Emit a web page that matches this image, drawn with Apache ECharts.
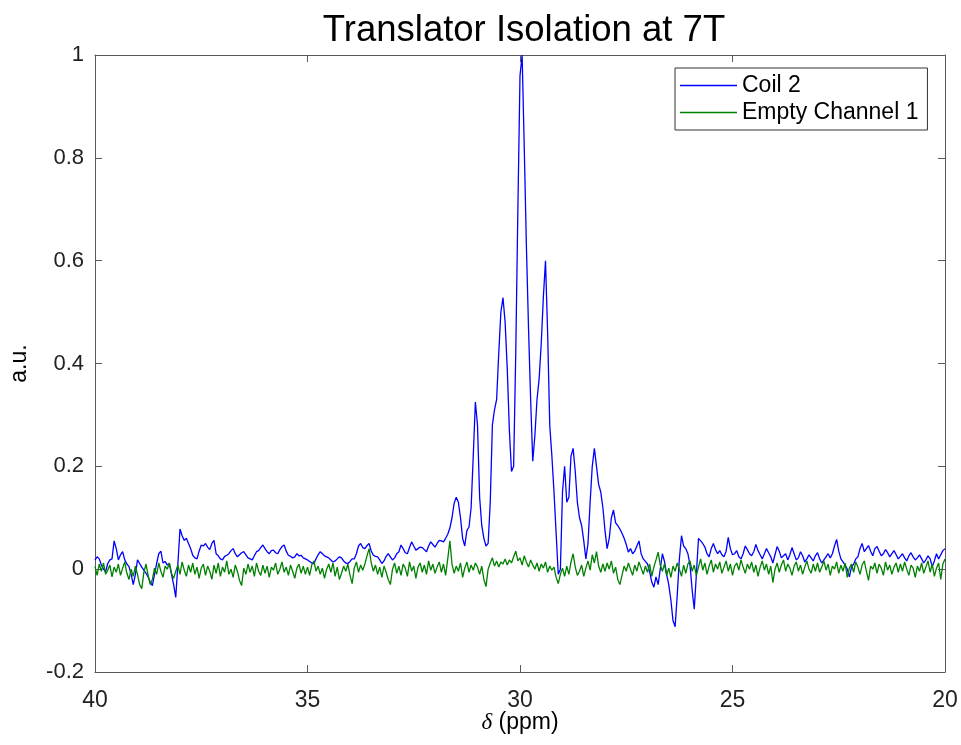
<!DOCTYPE html>
<html><head><meta charset="utf-8">
<script src="https://cdn.jsdelivr.net/npm/echarts@6/dist/echarts.min.js"></script>
<style>html,body{margin:0;padding:0;background:#fff}#c{width:961px;height:745px}</style>
</head><body><div id="c"></div>
<script>
// chemical shift grid: 40 ppm down to 20 ppm
const ppmStart = 40;
const ppmStep = 0.05;

const coil2 = [
0.018,0.024,0.02,0.008,0.0,-0.005,0.011,0.018,0.02,0.055,0.04,0.018,0.028,0.034,0.018,0.01,0.005,-0.01,-0.03,-0.01,
0.018,0.011,0.004,-0.002,-0.008,-0.015,-0.025,-0.032,-0.01,0.011,0.03,0.035,0.012,0.015,0.008,0.011,-0.01,-0.03,-0.055,0.01,
0.078,0.065,0.056,0.06,0.05,0.04,0.027,0.022,0.02,0.035,0.047,0.045,0.05,0.043,0.038,0.05,0.056,0.03,0.026,0.02,
0.018,0.025,0.027,0.03,0.036,0.04,0.03,0.024,0.028,0.032,0.034,0.028,0.022,0.02,0.018,0.026,0.034,0.036,0.042,0.047,
0.04,0.034,0.03,0.036,0.037,0.032,0.03,0.038,0.044,0.047,0.035,0.027,0.025,0.022,0.024,0.03,0.026,0.027,0.022,0.02,
0.018,0.015,0.012,0.011,0.02,0.028,0.034,0.03,0.026,0.024,0.022,0.018,0.014,0.016,0.02,0.024,0.022,0.016,0.012,0.011,
0.015,0.02,0.02,0.03,0.045,0.05,0.042,0.04,0.046,0.05,0.035,0.027,0.025,0.024,0.018,0.011,0.016,0.025,0.03,0.024,
0.018,0.022,0.03,0.034,0.047,0.04,0.032,0.03,0.042,0.053,0.045,0.037,0.04,0.043,0.042,0.038,0.034,0.045,0.053,0.048,
0.043,0.05,0.056,0.055,0.053,0.06,0.068,0.08,0.1,0.128,0.14,0.13,0.1,0.06,0.045,0.075,0.082,0.12,0.22,0.325,
0.28,0.14,0.085,0.06,0.045,0.05,0.13,0.28,0.31,0.33,0.42,0.5,0.528,0.48,0.39,0.27,0.19,0.2,0.42,0.7,
0.96,1.0,0.82,0.63,0.47,0.33,0.21,0.26,0.33,0.37,0.44,0.53,0.6,0.46,0.28,0.22,0.15,0.07,-0.01,0.0,
0.15,0.2,0.13,0.14,0.22,0.235,0.19,0.13,0.1,0.085,0.055,0.02,0.05,0.13,0.2,0.235,0.2,0.165,0.15,0.12,
0.075,0.04,0.06,0.1,0.115,0.09,0.085,0.078,0.07,0.06,0.048,0.033,0.04,0.03,0.035,0.045,0.055,0.03,0.02,0.015,
0.01,-0.005,-0.025,-0.035,-0.015,-0.03,0.0,0.03,0.015,-0.01,-0.03,-0.06,-0.1,-0.112,-0.05,0.02,0.065,0.045,0.04,0.03,
0.008,-0.04,-0.078,-0.01,0.06,0.055,0.05,0.043,0.03,0.024,0.04,0.05,0.038,0.03,0.036,0.028,0.024,0.035,0.062,0.04,
0.028,0.03,0.036,0.024,0.02,0.03,0.045,0.038,0.03,0.026,0.034,0.048,0.036,0.028,0.02,0.03,0.04,0.032,0.024,0.012,
0.028,0.044,0.035,0.022,0.026,0.03,0.018,0.028,0.042,0.03,0.018,0.022,0.034,0.026,0.014,0.02,0.028,0.022,0.016,0.026,
0.032,0.02,0.012,0.018,0.024,0.03,0.022,0.03,0.045,0.058,0.035,0.02,0.014,0.008,0.0,-0.015,0.004,0.01,0.02,0.024,
0.04,0.05,0.034,0.04,0.046,0.035,0.026,0.04,0.044,0.035,0.026,0.03,0.038,0.032,0.024,0.03,0.036,0.028,0.02,0.025,
0.03,0.022,0.016,0.026,0.032,0.024,0.018,0.022,0.028,0.02,0.012,0.018,0.026,0.02,0.005,0.016,0.03,0.02,0.028,0.036,0.04
];

const emptyChannel1 = [
0.005,-0.012,0.01,-0.004,0.012,-0.01,-0.002,0.008,-0.015,0.004,-0.006,0.01,-0.012,0.002,0.014,-0.008,-0.02,0.0,-0.014,0.006,
-0.01,-0.03,-0.038,-0.006,0.01,-0.012,-0.03,-0.02,0.002,-0.01,0.012,-0.004,-0.016,0.006,0.0,0.012,-0.008,-0.018,-0.004,0.008,
-0.01,0.014,-0.002,-0.014,0.008,-0.006,0.012,-0.01,0.004,-0.018,0.002,0.01,-0.012,0.006,-0.004,-0.02,0.008,-0.008,0.012,-0.014,
0.004,-0.006,0.016,-0.01,0.0,-0.016,0.008,-0.004,-0.022,-0.032,0.002,-0.01,0.01,-0.006,0.006,-0.014,0.012,-0.004,-0.012,0.008,
-0.008,0.006,-0.016,0.004,-0.002,0.012,-0.01,0.0,0.014,-0.006,0.004,-0.012,0.008,-0.004,-0.018,0.002,0.01,-0.008,0.006,-0.01,
0.004,-0.012,0.008,0.016,-0.004,0.006,-0.01,0.002,-0.018,0.0,0.01,-0.006,0.012,-0.014,0.004,-0.02,-0.008,0.006,-0.004,0.01,
-0.012,-0.028,0.002,0.014,-0.006,0.008,-0.002,0.01,0.026,0.04,0.012,-0.004,0.008,-0.01,0.004,-0.016,0.006,-0.006,-0.02,-0.03,
0.0,0.012,-0.008,0.006,-0.012,0.01,0.002,-0.014,0.014,-0.004,0.006,-0.018,0.004,0.012,-0.006,0.008,-0.01,0.016,-0.002,0.01,
-0.008,0.004,0.014,-0.006,0.01,-0.012,0.02,0.055,0.01,-0.008,0.006,-0.004,0.012,-0.016,0.002,0.014,-0.006,0.008,-0.002,0.012,
0.004,-0.01,0.006,-0.02,-0.034,0.0,0.012,0.022,0.006,0.016,0.004,0.014,0.01,0.02,0.008,0.018,0.012,0.024,0.035,0.016,
0.022,0.008,0.026,0.014,0.004,0.018,0.008,0.0,0.012,-0.004,0.01,0.002,0.014,-0.006,0.006,-0.002,0.004,-0.016,-0.028,-0.01,
0.002,-0.014,0.006,-0.01,0.014,0.03,0.004,-0.012,-0.004,0.008,-0.014,0.002,0.016,-0.002,0.028,0.012,0.034,0.006,-0.006,0.01,
-0.004,0.012,0.0,0.016,-0.008,0.004,-0.02,-0.03,-0.012,0.006,-0.004,0.012,0.0,-0.012,0.008,-0.004,0.014,0.002,-0.01,0.006,
-0.006,0.01,-0.014,0.004,0.018,0.033,0.008,-0.004,0.01,-0.012,0.002,-0.016,0.006,-0.004,0.012,0.0,-0.014,0.008,-0.008,0.01,
0.016,-0.004,0.008,-0.012,0.004,0.02,-0.002,0.012,-0.01,0.006,0.018,-0.006,0.01,0.0,0.014,-0.008,0.004,0.016,-0.004,0.01,
-0.012,0.006,0.012,-0.002,0.018,0.004,-0.008,0.01,0.0,0.014,-0.006,0.008,-0.014,0.004,0.016,-0.002,0.01,-0.01,0.006,-0.026,
0.0,0.012,-0.006,0.008,0.018,-0.004,0.01,0.002,-0.012,0.006,0.014,-0.004,0.008,-0.01,0.004,0.016,0.0,-0.008,0.01,-0.004,
0.012,-0.006,0.004,0.016,-0.002,0.01,-0.012,0.006,0.0,0.014,-0.008,0.008,-0.004,0.012,-0.016,0.002,0.01,-0.006,0.014,0.004,
-0.01,0.008,0.016,-0.004,-0.022,0.006,0.0,0.012,-0.008,0.01,0.002,-0.012,0.014,-0.002,0.008,-0.01,0.004,0.012,-0.006,0.01,
-0.004,0.014,0.0,-0.012,0.008,0.002,-0.016,0.006,-0.004,0.012,-0.008,0.004,0.016,-0.006,0.01,-0.014,0.002,0.012,-0.02,0.01,0.02
];

const xTicks = [40, 35, 30, 25, 20];
const yTicks = [-0.2, 0, 0.2, 0.4, 0.6, 0.8, 1];
const seriesNames = ['Coil 2', 'Empty Channel 1'];

function pairs(vals) {
  return vals.map((v, i) => [Math.round((ppmStart - ppmStep * i) * 1000) / 1000, v]);
}

const FONT = '"Liberation Sans", Arial, Helvetica, sans-serif';
const AXC = '#5a5a5a';
const xMin = Math.min(...xTicks), xMax = Math.max(...xTicks);
const yMin = Math.min(...yTicks), yMax = Math.max(...yTicks);
const xInt = xTicks[0] - xTicks[1];
const yInt = Math.round((yTicks[1] - yTicks[0]) * 1000) / 1000;

const baseX = {
  type: 'value', min: xMin, max: xMax, interval: xInt, inverse: true,
  axisLine: { show: true, onZero: false, lineStyle: { color: AXC, width: 1 } },
  axisTick: { show: true, inside: true, length: 7, lineStyle: { color: AXC } },
  splitLine: { show: false }
};
const baseY = {
  type: 'value', min: yMin, max: yMax, interval: yInt,
  axisLine: { show: true, onZero: false, lineStyle: { color: AXC, width: 1 } },
  axisTick: { show: true, inside: true, length: 7, lineStyle: { color: AXC } },
  splitLine: { show: false }
};

const chart = echarts.init(document.getElementById('c'), null, { renderer: 'canvas' });
chart.setOption({
  animation: false,
  backgroundColor: '#ffffff',
  title: {
    text: 'Translator Isolation at 7T',
    left: 519, top: 7, textAlign: 'center',
    textStyle: { fontFamily: FONT, fontSize: 36.5, fontWeight: 'normal', color: '#000' }
  },
  legend: {
    orient: 'vertical', left: 675, top: 68,
    padding: [6, 9, 6, 5], itemGap: 4,
    itemWidth: 57, itemHeight: 1.4, icon: 'rect',
    borderColor: '#333', borderWidth: 1, backgroundColor: '#fff',
    textStyle: { fontFamily: FONT, fontSize: 23, color: '#000' },
    data: seriesNames
  },
  grid: { left: 93, right: 16, top: 55, bottom: 73, containLabel: false },
  xAxis: [
    Object.assign({}, baseX, {
      position: 'bottom',
      name: '{i|δ} (ppm)', nameLocation: 'middle', nameGap: 39, nameMoveOverlap: false,
      nameTextStyle: { fontFamily: FONT, fontSize: 23, color: '#000',
        rich: { i: { fontFamily: '"Liberation Serif", serif', fontStyle: 'italic', fontSize: 23, color: '#000' } } },
      axisLabel: { show: true, margin: 17, fontFamily: FONT, fontSize: 23, color: '#222',
        formatter: v => String(v) }
    }),
    Object.assign({}, baseX, { position: 'top', axisLabel: { show: false } })
  ],
  yAxis: [
    Object.assign({}, baseY, {
      position: 'left',
      name: 'a.u.', nameLocation: 'middle', nameGap: 64, nameRotate: 90, nameMoveOverlap: false,
      nameTextStyle: { fontFamily: FONT, fontSize: 23, color: '#000' },
      axisLabel: { show: true, margin: 11, fontFamily: FONT, fontSize: 22, color: '#222',
        formatter: v => String(Math.round(v * 10) / 10) }
    }),
    Object.assign({}, baseY, { position: 'right', axisLabel: { show: false } })
  ],
  series: [
    {
      name: seriesNames[0], type: 'line', xAxisIndex: 0, yAxisIndex: 0,
      data: pairs(coil2), symbol: 'none', showSymbol: false,
      lineStyle: { color: '#0000ff', width: 1.3 }, itemStyle: { color: '#0000ff' },
      z: 3
    },
    {
      name: seriesNames[1], type: 'line', xAxisIndex: 0, yAxisIndex: 0,
      data: pairs(emptyChannel1), symbol: 'none', showSymbol: false,
      lineStyle: { color: '#008000', width: 1.3 }, itemStyle: { color: '#008000' },
      z: 4
    }
  ]
});
</script>
</body></html>
